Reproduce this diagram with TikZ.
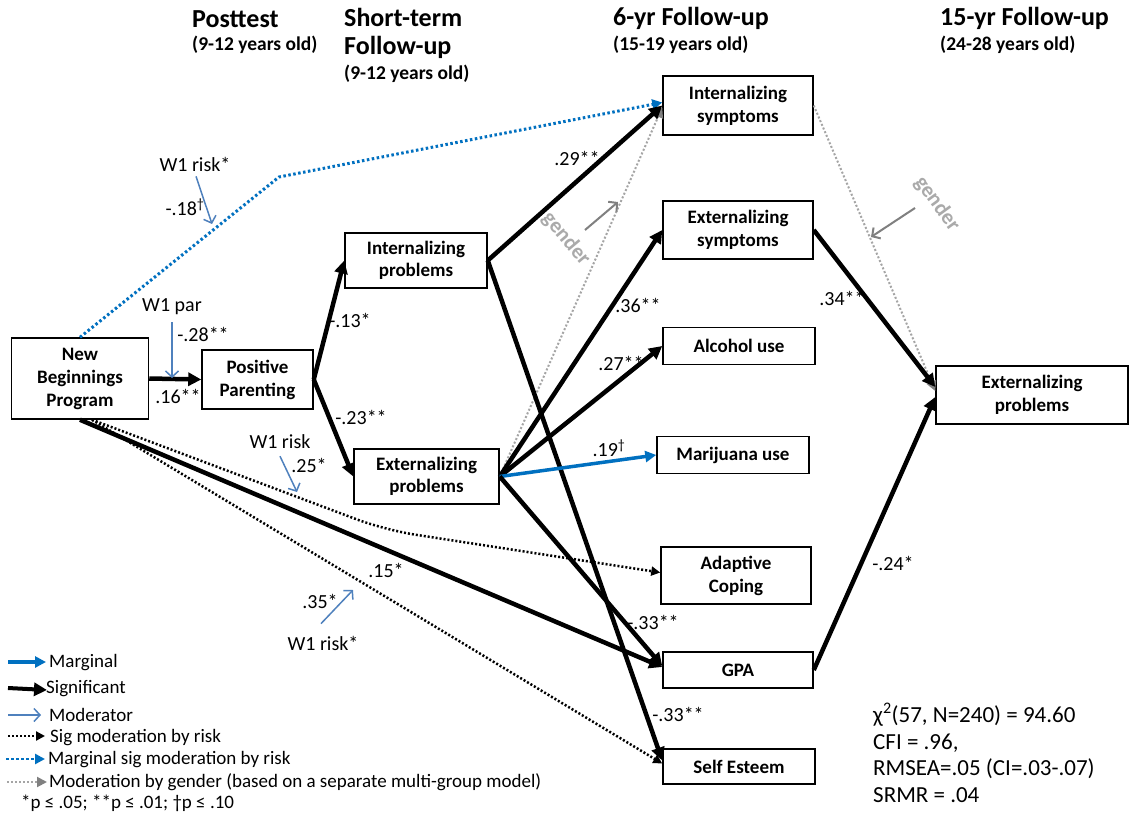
\documentclass[tikz,border=0pt]{standalone}
\usepackage{fontspec}
\setmainfont{Carlito}
\usetikzlibrary{arrows.meta,calc}
\definecolor{margblue}{RGB}{0,112,192}
\definecolor{modblue}{RGB}{79,129,189}
\definecolor{garrow}{RGB}{128,128,128}
\definecolor{gdot}{RGB}{165,165,165}
\definecolor{gtext}{RGB}{170,170,170}
\begin{document}
\begin{tikzpicture}[x=1pt,y=-1pt,
 box/.style={draw,line width=1.5pt,align=center,inner sep=0pt,font=\fontsize{19}{23}\selectfont\bfseries},
 lbl/.style={font=\fontsize{20}{22}\selectfont,inner sep=0pt},
 ttl/.style={font=\fontsize{26}{30}\selectfont\bfseries,inner sep=0pt,anchor=west},
 sub/.style={font=\fontsize{19.5}{22}\selectfont\bfseries,inner sep=0pt,anchor=west},
 leg/.style={font=\fontsize{19}{22}\selectfont,inner sep=0pt,anchor=west},
 sig/.style={line width=4.5pt,-{Triangle[length=13pt,width=13pt]}},
 marg/.style={line width=3.5pt,color=margblue,-{Triangle[length=11pt,width=11pt]}},
 modr/.style={line width=1.5pt,color=modblue,-{Straight Barb[length=6pt,width=13pt]}},
 sigdot/.style={line width=2.5pt,dash pattern=on 2pt off 2pt,-{Triangle[length=9pt,width=9pt]}},
 margdot/.style={line width=3pt,color=margblue,dash pattern=on 2.5pt off 2.5pt,-{Triangle[length=10pt,width=10pt]}},
 gdotl/.style={line width=2pt,color=gdot,dash pattern=on 2pt off 2pt,-{Triangle[length=10pt,width=10pt,color=garrow]}},
 garr/.style={line width=2pt,color=garrow,-{Straight Barb[length=6pt,width=13pt]}},
 gtxt/.style={font=\fontsize{21.5}{24}\selectfont\bfseries,text=gtext,inner sep=0pt}
]
\fill[white] (0,0) rectangle (1132,818);
\useasboundingbox (0,0) rectangle (1132,818);

% titles
\node[ttl] (t1) at (192,19) {Posttest};
\node[sub] (t1s) at (192,45) {(9-12 years old)};
\node[ttl] (t2) at (344,17) {Short-term};
\node[ttl] (t2b) at (344,47) {Follow-up};
\node[sub] (t2s) at (344,74) {(9-12 years old)};
\node[ttl] (t3) at (613,18) {6-yr Follow-up};
\node[sub] (t3s) at (613,45) {(15-19 years old)};
\node[ttl] (t4) at (940,18) {15-yr Follow-up};
\node[sub] (t4s) at (940,45) {(24-28 years old)};

% boxes
\node[box,minimum width=137pt,minimum height=81pt] (nbp) at (80,378.5) {New\\Beginnings\\Program};
\node[box,minimum width=111pt,minimum height=59pt] (pp) at (257.5,379.5) {Positive\\Parenting};
\node[box,minimum width=142pt,minimum height=55pt,font=\fontsize{19}{21.5}\selectfont\bfseries] (ip) at (416,260.5) {Internalizing\\problems};
\node[box,minimum width=145pt,minimum height=55pt,font=\fontsize{19}{21.5}\selectfont\bfseries] (ep) at (426.5,476.5) {Externalizing\\problems};
\node[box,minimum width=150pt,minimum height=59pt] (is) at (738,105.5) {Internalizing\\symptoms};
\node[box,minimum width=150pt,minimum height=58pt] (es) at (738,230) {Externalizing\\symptoms};
\node[box,minimum width=152pt,minimum height=37pt] (al) at (739,346) {Alcohol use};
\node[box,minimum width=152pt,minimum height=37pt] (mj) at (733,455) {Marijuana use};
\node[box,minimum width=150pt,minimum height=57pt] (ac) at (736,575.5) {Adaptive\\Coping};
\node[box,minimum width=150pt,minimum height=36pt] (gpa) at (738,670) {GPA};
\node[box,minimum width=152pt,minimum height=35pt] (se) at (739,766.5) {Self Esteem};
\node[box,minimum width=192pt,minimum height=58pt] (ep15) at (1032,395) {Externalizing\\problems};

% coordinates
\coordinate (bend1) at (279,177);
\coordinate (bend2) at (385,530);
\coordinate (nbpd) at ([xshift=12pt]nbp.south);

% moderated / dotted paths
\draw[margdot] (nbp.north) -- (bend1) -- ([yshift=3pt]is.west);
\draw[sigdot,rounded corners=30pt] (nbpd) -- (bend2) -- ([yshift=3pt]ac.west);
\draw[sigdot] (nbpd) -- ([yshift=3pt]se.west);
\draw[gdotl] (ep.east) -- ([yshift=-2pt]is.west);
\draw[gdotl] (is.east) -- ([yshift=4pt]ep15.west);

% significant paths
\draw[sig] (nbp.east) -- (pp.west);
\draw[sig] (pp.east) -- (ip.west);
\draw[sig] (pp.east) -- (ep.west);
\draw[sig] (ip.east) -- (is.west);
\draw[sig] (ip.east) -- ([yshift=6pt]se.west);
\draw[sig] (ep.east) -- (es.west);
\draw[sig] (ep.east) -- (al.west);
\draw[marg] (ep.east) -- (mj.west);
\draw[sig] (ep.east) -- ([yshift=4pt]gpa.west);
\draw[sig] (nbp.south) -- ([yshift=3pt]gpa.west);
\draw[sig] (es.east) -- ([yshift=8pt]ep15.west);
\draw[sig] (gpa.east) -- ([yshift=-2pt]ep15.west);

% moderators
\node[lbl] (w1par) at (172,307) {W1 par};
\coordinate (m1) at (172,378);
\draw[modr] ([yshift=-7pt]w1par.south) -- (m1);
\node[lbl] (w1r1) at (195,164) {W1 risk*};
\coordinate (m2) at (212,224);
\draw[modr] ([xshift=1pt,yshift=-5pt]w1r1.south) -- (m2);
\node[lbl] (w1r2) at (280,442) {W1 risk};
\coordinate (m3) at (297,492);
\draw[modr] ([yshift=-7pt]w1r2.south) -- (m3);
\node[lbl] (w1r3) at (323,643) {W1 risk*};
\coordinate (m4) at (353,590);
\draw[modr] ([xshift=-2pt,yshift=12pt]w1r3.north) -- (m4);

% gender moderators
\coordinate (g1a) at (585,230);
\coordinate (g1b) at (618,202);
\draw[garr] (g1a) -- (g1b);
\node[gtxt,rotate=-50] (gen1) at (566,239) {gender};
\coordinate (g2a) at (915,208);
\coordinate (g2b) at (871,237);
\draw[garr] (g2a) -- (g2b);
\node[gtxt,rotate=-54] (gen2) at (937,204) {gender};

% coefficient labels
\node[lbl] (l1) at (178,396) {.16**};
\node[lbl] (l2) at (203,334) {-.28**};
\node[lbl] (l3) at (350,320) {-.13*};
\node[lbl] (l4) at (361,417) {-.23**};
\node[lbl] (l5) at (309,465) {.25*};
\node[lbl] (l6) at (386,570) {.15*};
\node[lbl] (l7) at (320,601) {.35*};
\node[lbl] (l8) at (185,207) {-.18\textsuperscript{\dag}};
\node[lbl] (l9) at (577,158) {.29**};
\node[lbl] (l10) at (638,305) {.36**};
\node[lbl] (l11) at (621,363) {.27**};
\node[lbl] (l12) at (609,448) {.19\textsuperscript{\dag}};
\node[lbl] (l13) at (653,622) {-.33**};
\node[lbl] (l14) at (678,714) {-.33**};
\node[lbl] (l15) at (842,298) {.34**};
\node[lbl] (l16) at (893,563) {-.24*};

% fit statistics
\node[font=\fontsize{23}{26.5}\selectfont,align=left,anchor=north west,inner sep=0pt] (fit) at (873,703)
 {χ\textsuperscript{2}(57, N=240) = 94.60\\CFI = .96,\\RMSEA=.05 (CI=.03-.07)\\SRMR = .04};

% legend
\node[leg] (lgA) at (49,663) {Marginal};
\coordinate (la) at (8,662);
\draw[marg] (la) -- ([xshift=-3pt,yshift=1pt]lgA.west);
\node[leg] (lgB) at (46,689) {Significant};
\coordinate (lb) at (8,688);
\draw[sig,line width=4pt] (lb) -- ([xshift=1pt,yshift=-1pt]lgB.west);
\node[leg] (lgC) at (49,715) {Moderator};
\coordinate (lc) at (8,715);
\draw[modr] (lc) -- ([xshift=-8pt]lgC.west);
\node[leg] (lgD) at (50,738) {Sig moderation by risk};
\coordinate (ld) at (8,736);
\draw[sigdot] (ld) -- ([xshift=-5pt,yshift=2pt]lgD.west);
\node[leg] (lgE) at (48,760) {Marginal sig moderation by risk};
\coordinate (le) at (6,759);
\draw[margdot,line width=2.5pt] (le) -- ([xshift=-3pt,yshift=1pt]lgE.west);
\node[leg] (lgF) at (49,782) {Moderation by gender (based on a separate multi-group model)};
\coordinate (lf) at (7,782);
\draw[gdotl] (lf) -- ([xshift=-2pt]lgF.west);
\node[leg] (lgG) at (21,803) {*p ≤ .05; **p ≤ .01; \dag p ≤ .10};
\end{tikzpicture}
\end{document}
